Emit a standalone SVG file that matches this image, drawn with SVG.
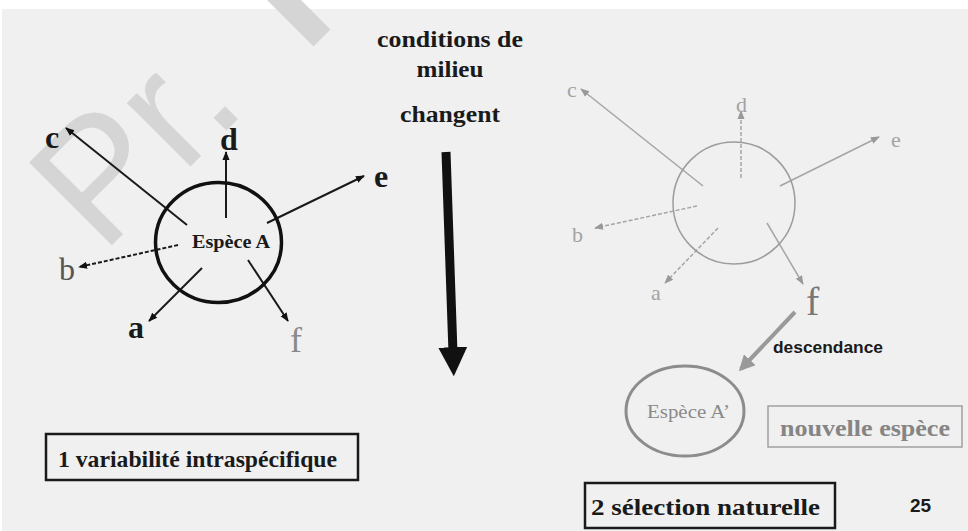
<svg xmlns="http://www.w3.org/2000/svg" width="968" height="531" viewBox="0 0 968 531">
<defs>
<marker id="ahB" viewBox="0 0 10 10" refX="9" refY="5" markerWidth="9" markerHeight="9" markerUnits="userSpaceOnUse" orient="auto"><path d="M0,1 L10,5 L0,9 z" fill="#111"/></marker>
<marker id="ahG" viewBox="0 0 10 10" refX="9" refY="5" markerWidth="9" markerHeight="9" markerUnits="userSpaceOnUse" orient="auto"><path d="M0,1 L10,5 L0,9 z" fill="#999"/></marker>
<marker id="ahD" viewBox="0 0 10 10" refX="8" refY="5" markerWidth="16" markerHeight="16" markerUnits="userSpaceOnUse" orient="auto"><path d="M0,0 L10,5 L0,10 z" fill="#999"/></marker>
<marker id="ahBig" viewBox="0 0 10 10" refX="2" refY="5" markerWidth="29" markerHeight="29" markerUnits="userSpaceOnUse" orient="auto"><path d="M0,0 L10,5 L0,10 z" fill="#111"/></marker>
</defs>
<style>
.serif{font-family:"Liberation Serif","DejaVu Serif",serif}
.sans{font-family:"Liberation Sans",Arial,sans-serif}
.lb{font-weight:bold;font-size:32px;fill:#1a1a1a}
.rl{font-size:22px;fill:#a3a3a3}
.la{stroke:#1a1a1a;stroke-width:2;fill:none;marker-end:url(#ahB)}
.ra{stroke:#a5a5a5;stroke-width:1.5;fill:none;marker-end:url(#ahG)}
.dash{stroke-dasharray:4 2}
.title{font-weight:bold;font-size:23px;fill:#1a1a1a}
.box{fill:none;stroke:#1a1a1a;stroke-width:2.5}
</style>
<rect x="0" y="0" width="968" height="531" fill="#f0f0f0"/>
<rect x="0" y="0" width="968" height="9" fill="#ffffff"/>
<rect x="0" y="0" width="2" height="531" fill="#ffffff"/>

<g id="watermark" fill="#d5d5d5">
<text class="sans" x="102" y="255" font-size="170" transform="rotate(-45 102 255)">Pr.</text>
<line x1="322" y1="38" x2="262" y2="-22" stroke="#d5d5d5" stroke-width="24"/>
</g>

<g id="connectors">
<line class="la" x1="187" y1="225" x2="66" y2="128"/>
<line class="la" x1="226" y1="218" x2="226" y2="152" stroke-width="2.5"/>
<line class="la" x1="267" y1="223" x2="364" y2="176" stroke-width="1.5"/>
<line class="la dash" x1="178" y1="245" x2="79" y2="267" stroke-width="1.5"/>
<line class="la" x1="202" y1="268" x2="149" y2="321"/>
<line class="la" x1="248" y1="260" x2="288" y2="321"/>
<line x1="446" y1="152" x2="453" y2="353" stroke="#111" stroke-width="9" marker-end="url(#ahBig)"/>
<line class="ra" x1="703" y1="186" x2="581" y2="89"/>
<line class="ra dash" x1="741" y1="178" x2="741" y2="111"/>
<line class="ra" x1="780" y1="186" x2="879" y2="137"/>
<line class="ra dash" x1="697" y1="206" x2="595" y2="228"/>
<line class="ra dash" x1="718" y1="228" x2="665" y2="283"/>
<line class="ra" x1="767" y1="223" x2="803" y2="284"/>
<line x1="795" y1="312" x2="741" y2="369" stroke="#999" stroke-width="4" marker-end="url(#ahD)"/>
</g>

<g id="especeA">
<ellipse cx="218.5" cy="242.5" rx="63" ry="60" fill="none" stroke="#111" stroke-width="3.5"/>
<text class="serif" x="192" y="248" font-size="19" font-weight="bold" fill="#1a1a1a" textLength="78" lengthAdjust="spacingAndGlyphs">Espèce A</text>
</g>
<g id="labelsLeft" class="serif">
<text class="lb" x="45" y="148">c</text>
<text class="lb" x="220" y="150">d</text>
<text class="lb" x="374" y="187">e</text>
<text x="59" y="280" font-size="32" fill="#555">b</text>
<text class="lb" x="128" y="338">a</text>
<text x="290" y="352" font-size="36" fill="#8a8a8a">f</text>
</g>

<g id="conditions" class="serif">
<text class="title" x="450" y="47" text-anchor="middle" textLength="146" lengthAdjust="spacingAndGlyphs">conditions de</text>
<text class="title" x="450" y="77" text-anchor="middle" textLength="67" lengthAdjust="spacingAndGlyphs">milieu</text>
<text class="title" x="450" y="122" text-anchor="middle" textLength="100" lengthAdjust="spacingAndGlyphs">changent</text>
</g>

<g id="especeRight">
<circle cx="734" cy="203" r="61" fill="none" stroke="#9c9c9c" stroke-width="1.5"/>
</g>
<g id="labelsRight" class="serif">
<text class="rl" x="567" y="97">c</text>
<text class="rl" x="736" y="112">d</text>
<text class="rl" x="891" y="147">e</text>
<text class="rl" x="572" y="242">b</text>
<text class="rl" x="651" y="300">a</text>
<text x="806" y="315" font-size="40" fill="#777">f</text>
</g>

<g id="descendance">
<text class="sans" x="773" y="353" font-size="16" font-weight="bold" fill="#1a1a1a" textLength="110" lengthAdjust="spacingAndGlyphs">descendance</text>
</g>

<g id="especeAprime">
<ellipse cx="685" cy="411" rx="59" ry="45" fill="none" stroke="#8c8c8c" stroke-width="3"/>
<text class="serif" x="647" y="418" font-size="18" fill="#8a8a8a" textLength="83" lengthAdjust="spacingAndGlyphs">Espèce A’</text>
</g>

<g id="nouvelleEspece">
<rect x="768" y="406" width="194" height="41" fill="none" stroke="#a0a0a0" stroke-width="1.5"/>
<text class="serif" x="780" y="436" font-size="23" font-weight="bold" fill="#858585" textLength="170" lengthAdjust="spacingAndGlyphs">nouvelle espèce</text>
</g>

<g id="box1">
<rect class="box" x="46" y="434" width="312" height="46"/>
<text class="serif title" x="58" y="467" font-size="24" textLength="279" lengthAdjust="spacingAndGlyphs">1 variabilité intraspécifique</text>
</g>

<g id="box2">
<rect class="box" x="585" y="483" width="250" height="45"/>
<text class="serif title" x="591" y="515" font-size="25" textLength="229" lengthAdjust="spacingAndGlyphs">2 sélection naturelle</text>
</g>

<g id="pageNumber">
<text class="sans" x="910" y="512" font-size="19" font-weight="bold" fill="#1a1a1a">25</text>
</g>
</svg>
